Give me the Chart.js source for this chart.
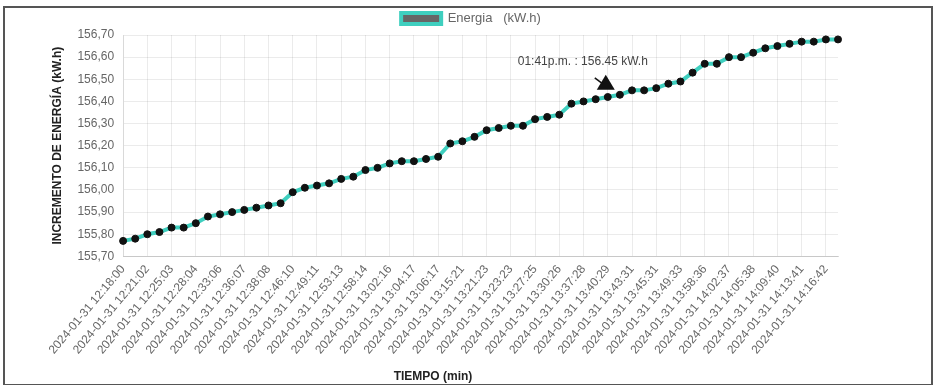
<!DOCTYPE html>
<html>
<head>
<meta charset="utf-8">
<script src="https://cdn.jsdelivr.net/npm/chart.js@4.4.1/dist/chart.umd.min.js"></script>
<style>
  html, body { margin: 0; padding: 0; background: #fff; }
  #wrap { position: absolute; left: 0; top: 0; width: 934px; height: 385px; }
  #frame { position: absolute; left: 3px; top: 6px; width: 926px; height: 376px; border: 2px solid #555; pointer-events: none; box-sizing: content-box; }
</style>
</head>
<body>
<div id="wrap"><canvas id="c"></canvas></div>
<div id="frame"></div>
<script>
const DATE = '2024-01-31 ';
const times = [
  '12:18:00','12:19:01','12:21:02','12:23:02','12:25:03','12:26:03','12:28:04','12:30:05','12:33:06','12:35:06',
  '12:36:07','12:37:07','12:38:08','12:42:09','12:46:10','12:47:10','12:49:11','12:51:12','12:53:13','12:55:13',
  '12:58:14','13:00:15','13:02:16','13:03:16','13:04:17','13:05:17','13:06:17','13:10:19','13:15:21','13:18:22',
  '13:21:23','13:22:23','13:23:23','13:25:24','13:27:25','13:28:25','13:30:26','13:33:27','13:37:28','13:39:28',
  '13:40:29','13:41:30','13:43:31','13:44:31','13:45:31','13:47:32','13:49:33','13:53:34','13:58:36','14:00:36',
  '14:02:37','14:03:37','14:05:38','14:07:39','14:09:40','14:11:40','14:13:41','14:15:41','14:16:42','14:18:42'
];
const categories = times.map(t => DATE + t);
const energia = [
  155.77,155.78,155.80,155.81,155.83,155.83,155.85,155.88,155.89,155.90,
  155.91,155.92,155.93,155.94,155.99,156.01,156.02,156.03,156.05,156.06,
  156.09,156.10,156.12,156.13,156.13,156.14,156.15,156.21,156.22,156.24,
  156.27,156.28,156.29,156.29,156.32,156.33,156.34,156.39,156.40,156.41,
  156.42,156.43,156.45,156.45,156.46,156.48,156.49,156.53,156.57,156.57,
  156.60,156.60,156.62,156.64,156.65,156.66,156.67,156.67,156.68,156.68
];
const yMin = 155.70, yMax = 156.70, yStep = 0.10;
const seriesLabel = 'Energia   (kW.h)';
const yTitle = 'INCREMENTO DE ENERGÍA (kW.h)';
const xTitle = 'TIEMPO (min)';
const annotText = '01:41p.m. : 156.45 kW.h';
const annotIndex = 40;
const annotValue = 156.52;

const FONT = "'Liberation Sans', Arial, sans-serif";

const overlay = {
  id: 'overlay',
  afterDraw(chart) {
    const ctx = chart.ctx;
    const xs = chart.scales.x, ys = chart.scales.y;
    ctx.save();
    ctx.font = 'bold 12px ' + FONT;
    ctx.fillStyle = '#222';
    ctx.textAlign = 'center';
    ctx.textBaseline = 'middle';
    ctx.fillText(xTitle, 433, 377);
    const ax = xs.getPixelForValue(annotIndex);
    const ay = ys.getPixelForValue(annotValue);
    ctx.font = '12px ' + FONT;
    ctx.fillStyle = '#444';
    ctx.fillText(annotText, ax - 25, ay - 13);
    ctx.fillStyle = '#111';
    ctx.beginPath();
    ctx.moveTo(ax - 2, ay);
    ctx.lineTo(ax - 11, ay + 15);
    ctx.lineTo(ax + 7, ay + 15);
    ctx.closePath();
    ctx.fill();
    ctx.strokeStyle = '#111';
    ctx.lineWidth = 1.5;
    ctx.beginPath();
    ctx.moveTo(ax - 13, ay + 3);
    ctx.lineTo(ax - 5, ay + 9);
    ctx.stroke();
    ctx.restore();
  }
};

new Chart(document.getElementById('c'), {
  type: 'line',
  data: {
    labels: categories,
    datasets: [{
      label: seriesLabel,
      data: energia,
      borderColor: '#3fcfbf',
      backgroundColor: '#666',
      borderWidth: 4,
      pointRadius: 3.5,
      pointBackgroundColor: '#111',
      pointBorderColor: '#111',
      pointBorderWidth: 1,
      tension: 0,
      fill: false
    }]
  },
  options: {
    responsive: true,
    maintainAspectRatio: false,
    animation: false,
    layout: { padding: { left: 44, right: 36, top: 2, bottom: 22 } },
    plugins: {
      legend: {
        position: 'top',
        labels: { boxWidth: 40, boxHeight: 11, padding: 10, color: '#666', font: { family: FONT, size: 13 } }
      },
      tooltip: { enabled: false }
    },
    scales: {
      x: {
        grid: { color: 'rgba(0,0,0,0.08)', drawTicks: false },
        border: { color: 'rgba(0,0,0,0.15)' },
        ticks: {
          autoSkip: false,
          minRotation: 50,
          maxRotation: 50,
          padding: 6,
          color: '#666',
          font: { family: FONT, size: 12 },
          callback: function(v, i) { return i % 2 === 0 ? this.getLabelForValue(v) : null; }
        }
      },
      y: {
        min: yMin,
        max: yMax,
        grid: { color: 'rgba(0,0,0,0.08)', drawTicks: false },
        border: { color: 'rgba(0,0,0,0.08)' },
        title: { display: true, text: yTitle, color: '#222', padding: { top: 6, bottom: 4 }, font: { family: FONT, size: 12, weight: 'bold' } },
        ticks: {
          stepSize: yStep,
          padding: 9,
          color: '#666',
          font: { family: FONT, size: 12 },
          callback: v => v.toFixed(2).replace('.', ',')
        }
      },
      spacer: {
        type: 'linear',
        position: 'right',
        display: true,
        grid: { display: false, drawOnChartArea: false },
        border: { display: false },
        ticks: { display: false },
        afterFit: s => { s.width = 60; }
      }
    }
  },
  plugins: [overlay]
});
</script>
</body>
</html>
